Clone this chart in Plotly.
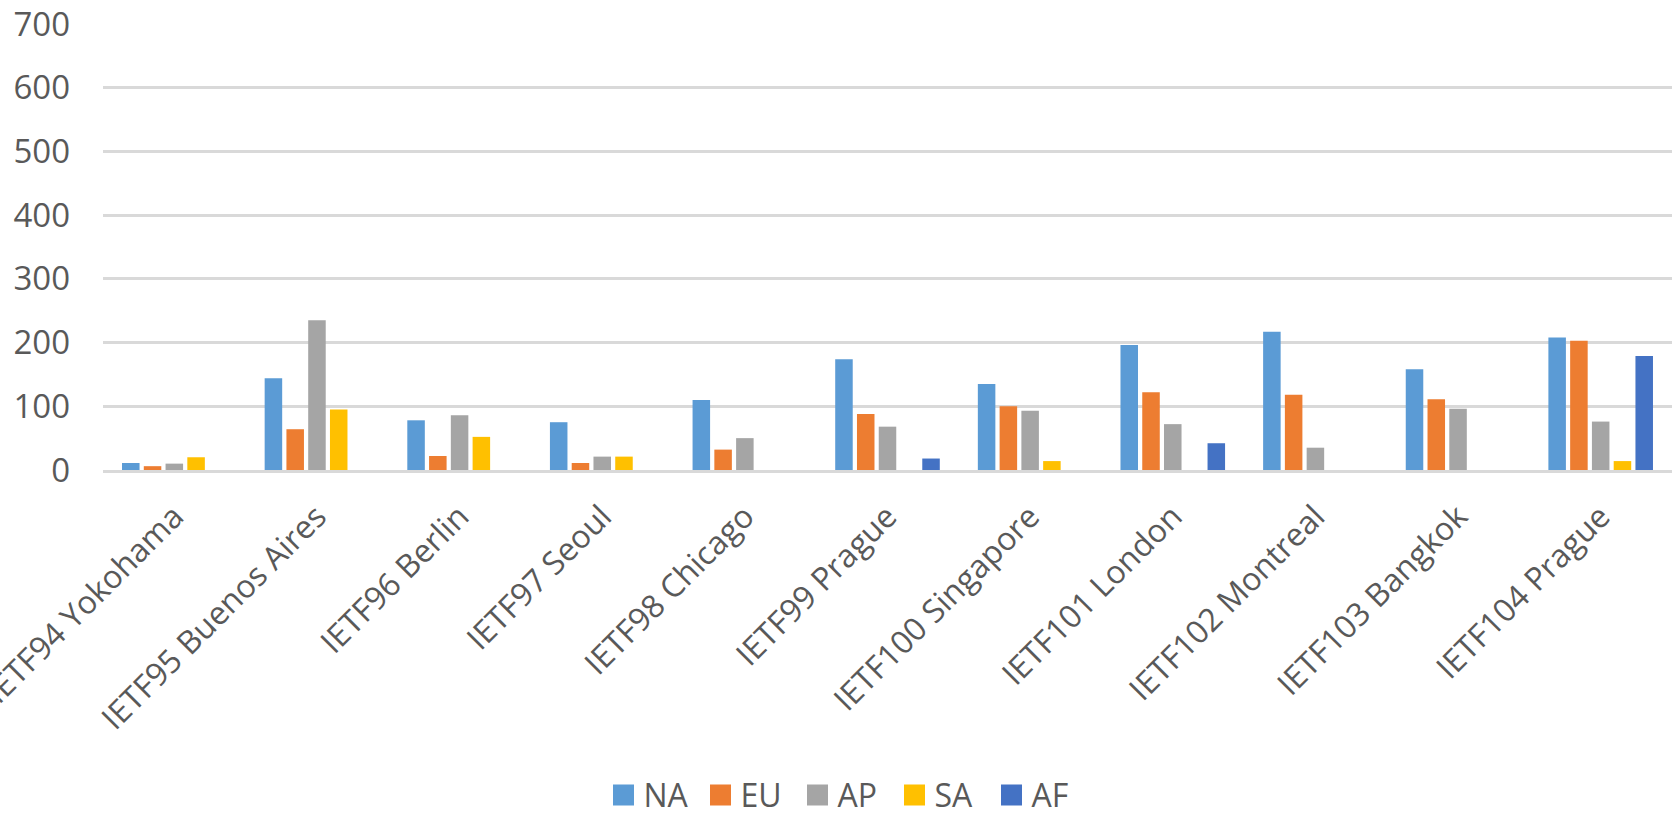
import plotly.graph_objects as go

meetings = ["IETF94 Yokohama", "IETF95 Buenos Aires", "IETF96 Berlin", "IETF97 Seoul",
            "IETF98 Chicago", "IETF99 Prague", "IETF100 Singapore", "IETF101 London",
            "IETF102 Montreal", "IETF103 Bangkok", "IETF104 Prague"]

na_vals = [11, 144, 78, 75, 110, 174, 135, 196, 217, 158, 208]
eu_vals = [6, 64, 22, 11, 32, 88, 100, 122, 118, 111, 203]
ap_vals = [10, 235, 86, 21, 50, 68, 93, 72, 35, 96, 76]
sa_vals = [20, 95, 52, 21, None, None, 14, None, None, None, 14]
af_vals = [None, None, None, None, None, 18, None, 42, None, None, 179]

series_names = ["NA", "EU", "AP", "SA", "AF"]
series_vals = [na_vals, eu_vals, ap_vals, sa_vals, af_vals]
colors = ["#5B9BD5", "#ED7D31", "#A5A5A5", "#FFC000", "#4472C4"]

y_ticks = [0, 100, 200, 300, 400, 500, 600, 700]

FONT = "Open Sans"
TXT = "#595959"

fig = go.Figure()
for name, vals, col in zip(series_names, series_vals, colors):
    fig.add_trace(go.Bar(x=meetings, y=vals, name=name, marker=dict(color=col, line=dict(width=0)),
                         showlegend=False))
for name, col in zip(series_names, colors):
    fig.add_trace(go.Scatter(x=[None], y=[None], mode="markers", name=name,
                             marker=dict(symbol="square", size=16, color=col,
                                         line=dict(color=col, width=5))))

fig.update_layout(
    width=1676, height=818,
    margin=dict(l=103, r=4, t=24, b=348, autoexpand=False),
    paper_bgcolor="white", plot_bgcolor="white",
    barmode="group", bargap=0.237, bargroupgap=0.195,
    font=dict(family=FONT, color=TXT, size=32),
    legend=dict(orientation="h", x=0.319, xanchor="left", y=-0.729, yanchor="middle",
                font=dict(size=32, color=TXT), bgcolor="rgba(0,0,0,0)", itemwidth=30,
                entrywidth=52, entrywidthmode="pixels"),
    xaxis=dict(tickangle=-45, showgrid=False, showline=True, linecolor="#D9D9D9", linewidth=3,
               ticks="", tickfont=dict(size=32, color=TXT), ticklabelstandoff=12, automargin=False),
    yaxis=dict(range=[0, 700], tickvals=y_ticks, showgrid=True, gridcolor="#D9D9D9", gridwidth=3,
               zeroline=False, showline=False, ticks="", tickfont=dict(size=33, color=TXT),
               ticklabelstandoff=32, automargin=False),
)

fig.write_html("out.html")
